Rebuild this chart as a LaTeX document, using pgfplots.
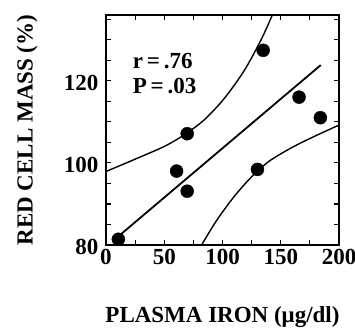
\documentclass[border=0pt]{standalone}
\usepackage{pgfplots}
\pgfplotsset{compat=1.18}
\usepackage{fontspec}
\setmainfont{Liberation Serif}
\newcommand{\lf}{\fontsize{23}{27}\selectfont\bfseries}
\begin{document}
\begin{tikzpicture}
\useasboundingbox (-106pt,-82pt) rectangle (249pt,245pt);
\begin{axis}[
  at={(0,0)}, anchor=south west,
  scale only axis, width=233pt, height=230pt,
  xmin=0, xmax=200, ymin=80, ymax=136,
  xtick={0,50,...,200}, minor xtick={25,75,...,175},
  ytick={80,100,120}, minor ytick={85,90,95,105,110,115,125,130,135},
  tick align=inside, major tick length=5pt, minor tick length=5pt,
  tick style={line width=1.2pt, black},
  axis line style={line width=1.6pt},
  ticklabel style={font=\lf},
  /pgf/number format/assume math mode=true,
  xticklabel style={yshift=-1pt},
  yticklabel style={xshift=-4pt, yshift=-2pt},
  xlabel={PLASMA IRON (μg/dl)},
  ylabel={RED CELL MASS (\%)},
  label style={font=\lf},
  xlabel style={at={(axis description cs:0.5,-0.335)}, anchor=base},
  ylabel style={at={(axis description cs:-0.339,0.5)}, anchor=center},
  clip=true,
]
\addplot[only marks, mark=*, mark size=6.5pt, black] coordinates {
(10.6,81.4) (60.6,98.0) (69.7,107.1) (69.7,93.1) (130,98.4) (134.9,127.4) (165.7,116.0) (184,111.0)
};
\addplot[black, line width=1.8pt] coordinates {(10.6,82.1) (184.3,123.8)};
\addplot[black, line width=1.4pt, smooth] coordinates {
(0,97.9) (25,100.9) (50,104.0) (67,106.8) (84,110.4) (101,115.5) (118.5,122.4) (133,129.9) (142,135.5) (143,136.4)
};
\addplot[black, line width=1.4pt, smooth] coordinates {
(81,79.5) (82,80) (95,86.0) (110,91.8) (125,96.6) (140,100.4) (160,103.8) (180,106.6) (200,109.2)
};
\node[anchor=west, font=\lf] at (axis cs:20,124.9) {r\,=\,.76};
\node[anchor=west, font=\lf] at (axis cs:20,118.7) {P\,=\,.03};
\end{axis}
\end{tikzpicture}
\end{document}
